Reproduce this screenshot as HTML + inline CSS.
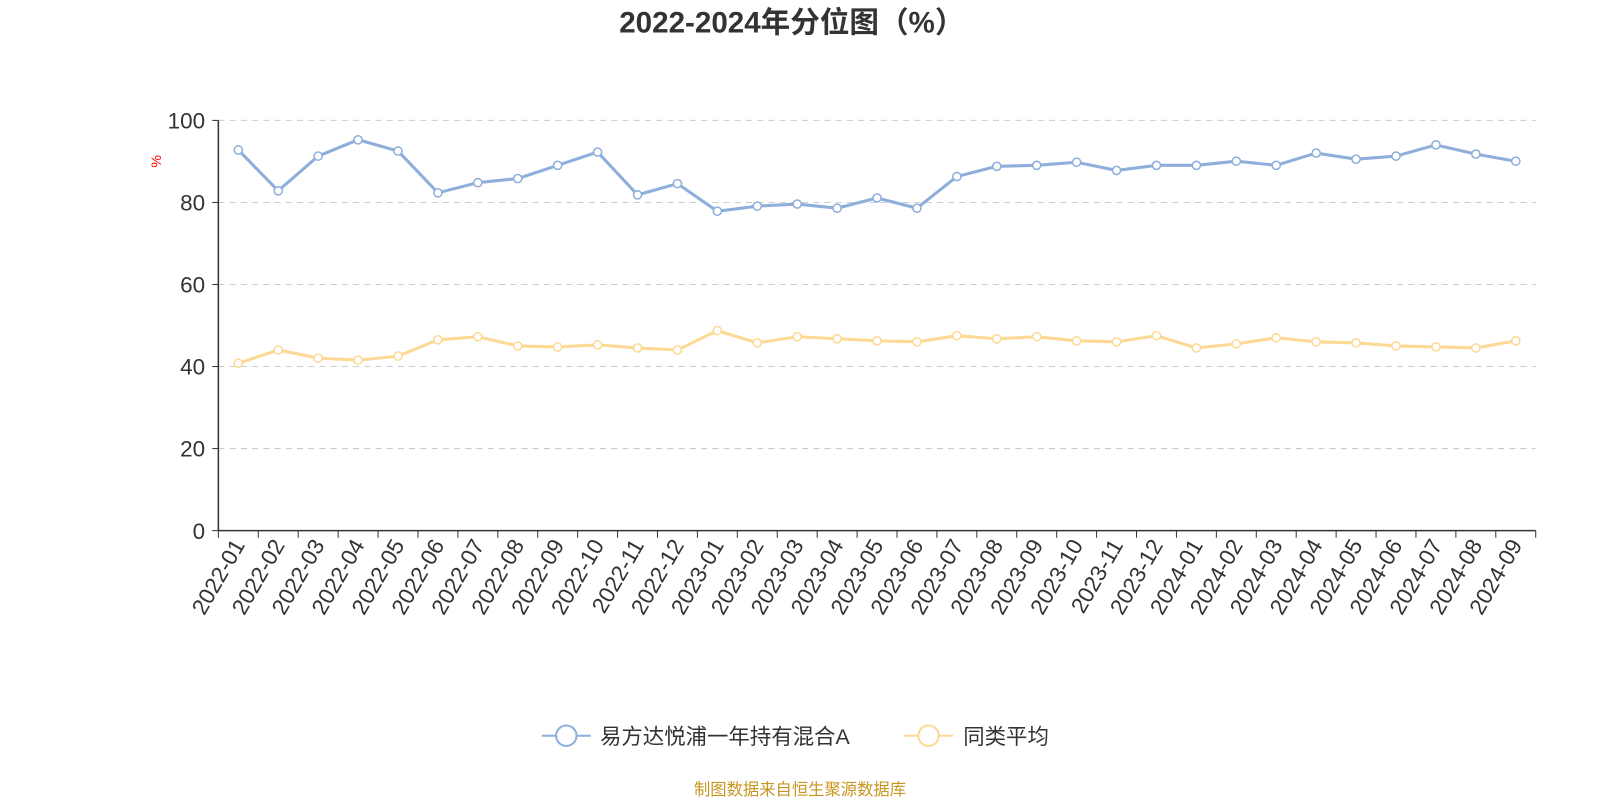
<!DOCTYPE html>
<html><head><meta charset="utf-8"><style>
body{margin:0;background:#fff;}
svg{font-family:"Liberation Sans","Noto Sans CJK SC",sans-serif;display:block;}
</style></head><body>
<svg id="c" width="1600" height="800" viewBox="0 0 1568 784" xmlns="http://www.w3.org/2000/svg"></svg>
<script>
const s=document.getElementById('c');
const blue=[147,187,153,137,148,189,179,175,162,149,191,180,207,202,200,204,194,204,173,163,162,159,167,162,162,158,162,150,156,153,142,151,158];
const yel=[356,343,351,353,349,333,330,339,340,338,341,343,324,336,330,332,334,335,329,332,330,334,335,329,341,337,331,335,336,339,340,341,334];
let h='';
h+='<text x="776" y="32" text-anchor="middle" font-size="29" font-weight="bold" fill="#333">2022-2024年分位图（%）</text>';
const y0=520,x0=214,x1=1505,n=33,w=(x1-x0)/n;
for(let i=0;i<=5;i++){const y=y0-i*80.4;
 if(i>0)h+=`<line x1="${x0}" x2="${x1}" y1="${y}" y2="${y}" stroke="#ccc" stroke-dasharray="6,5"/>`;
 h+=`<line x1="${x0-6}" x2="${x0}" y1="${y}" y2="${y}" stroke="#333"/>`;
 h+=`<text x="${x0-13}" y="${y+8}" text-anchor="end" font-size="22" fill="#333">${i*20}</text>`;}
h+=`<text x="158" y="158" font-size="14" fill="red" transform="rotate(-90 158 158)" text-anchor="middle">%</text>`;
h+=`<line x1="${x0}" x2="${x0}" y1="118" y2="${y0}" stroke="#333" stroke-width="1.5"/>`;
h+=`<line x1="${x0}" x2="${x1}" y1="${y0}" y2="${y0}" stroke="#333" stroke-width="1.5"/>`;
const labs=[];for(let y=2022;y<=2024;y++)for(let m=1;m<=12;m++){if(labs.length<n)labs.push(y+'-'+String(m).padStart(2,'0'));}
for(let i=0;i<=n;i++){const x=x0+i*w;h+=`<line x1="${x}" x2="${x}" y1="${y0}" y2="${y0+7}" stroke="#333"/>`;}
for(let i=0;i<n;i++){const x=x0+(i+0.5)*w+7;h+=`<text x="${x}" y="${y0+14}" font-size="22" fill="#333" text-anchor="end" transform="rotate(-60 ${x} ${y0+14})">${labs[i]}</text>`;}
function ser(d,c){let p=d.map((v,i)=>`${x0+(i+0.5)*w},${v}`).join(' ');
 let r=`<polyline points="${p}" fill="none" stroke="${c}" stroke-width="3"/>`;
 d.forEach((v,i)=>r+=`<circle cx="${x0+(i+0.5)*w}" cy="${v}" r="4" fill="#fff" stroke="${c}" stroke-width="1.5"/>`);return r;}
h+=ser(blue,'#8eaedc');h+=ser(yel,'#fdd995');
h+=`<line x1="531" x2="579" y1="721" y2="721" stroke="#8eaedc" stroke-width="2"/><circle cx="555" cy="721" r="10" fill="#fff" stroke="#8eaedc" stroke-width="2"/>`;
h+=`<text x="588" y="729" font-size="21" fill="#333">易方达悦浦一年持有混合A</text>`;
h+=`<line x1="886" x2="934" y1="721" y2="721" stroke="#fdd995" stroke-width="2"/><circle cx="910" cy="721" r="10" fill="#fff" stroke="#fdd995" stroke-width="2"/>`;
h+=`<text x="944" y="729" font-size="21" fill="#333">同类平均</text>`;
h+=`<text x="784" y="779" font-size="16" fill="#c8961e" text-anchor="middle">制图数据来自恒生聚源数据库</text>`;
s.innerHTML=h;
</script>
</body></html>
